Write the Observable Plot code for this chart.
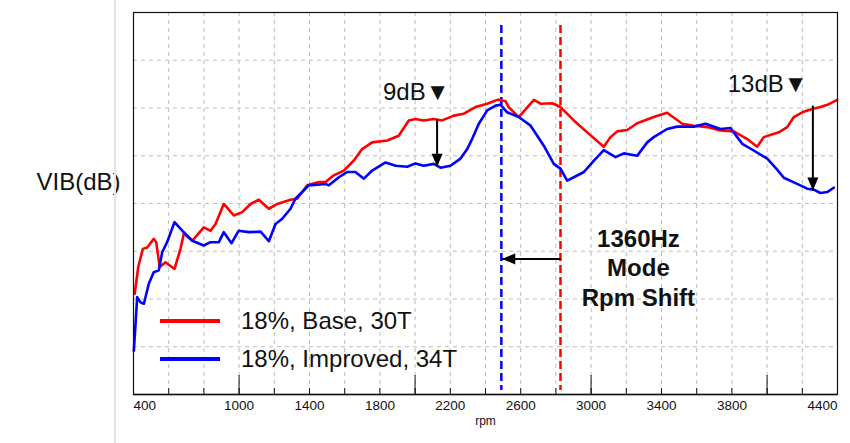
<!DOCTYPE html>
<html>
<head>
<meta charset="utf-8">
<script src="https://cdn.jsdelivr.net/npm/d3@7"></script>
<script src="https://cdn.jsdelivr.net/npm/@observablehq/plot@0.6"></script>
<style>
  html, body { margin: 0; padding: 0; background: #fff; }
  #wrap { position: relative; width: 850px; height: 443px; overflow: hidden; font-family: "Liberation Sans", Arial, sans-serif; }
  #pageline { position: absolute; left: 114px; top: 0; width: 2px; height: 443px; background: #e6e6e6; }
  #legend { position: absolute; left: 160px; top: 302px; }
  .row { display: flex; align-items: center; height: 38px; }
  .sw { width: 60px; height: 4px; margin-right: 21px; }
  .lab { font-size: 24px; color: #111; white-space: nowrap; }
</style>
</head>
<body>
<div id="wrap"><div id="pageline"></div></div>
<script>
// ---- data ----
const seriesNames = ["18%, Base, 30T", "18%, Improved, 34T"];
const seriesColors = ["#ff0000", "#0000ff"];

const rpmBase = [407,427,453,478,515,529,549,582,633,667,686,734,799,838,866,913,970,1018,1065,1112,1169,1217,1292,1330,1387,1453,1491,1538,1595,1652,1699,1756,1842,1907,1964,2002,2049,2106,2154,2220,2277,2343,2410,2467,2485,2514,2532,2589,2675,2713,2779,2826,2902,2978,3072,3110,3148,3205,3262,3356,3432,3518,3584,3660,3735,3811,3887,3944,3981,4067,4114,4152,4200,4256,4303,4351,4398];
const vibBase = [61.1,66.7,70.5,70.8,72.6,71.9,66.7,67.7,66.3,70.5,73.7,72.2,75.0,74.3,75.7,79.9,77.5,78.2,79.9,80.8,78.9,79.9,80.8,81.0,83.8,84.5,84.5,85.9,86.9,89.0,91.4,92.8,93.2,94.2,97.4,97.7,97.4,97.7,97.4,98.4,98.8,100.2,100.9,101.7,101.7,101.4,100.2,98.1,101.7,100.9,101.0,100.2,97.4,94.9,91.9,93.9,95.1,95.4,96.8,98.1,99.0,96.7,96.3,96.0,95.3,95.1,93.5,91.9,93.9,94.9,96.0,98.1,99.1,99.8,100.2,100.8,101.7];

const rpmImproved = [402,421,440,459,487,515,544,563,591,633,677,734,799,838,885,913,957,998,1055,1122,1169,1207,1245,1292,1320,1396,1491,1510,1567,1614,1661,1709,1756,1832,1889,1955,2002,2049,2106,2144,2201,2258,2296,2324,2362,2410,2457,2485,2523,2589,2656,2694,2731,2788,2826,2864,2902,2959,3016,3072,3139,3186,3262,3319,3356,3432,3489,3584,3650,3735,3792,3830,3859,3924,4001,4057,4095,4171,4228,4265,4303,4341,4379];
const vibImproved = [49.2,60.4,59.3,59.0,63.2,65.6,66.0,69.8,71.9,76.1,74.3,72.2,71.2,71.9,71.9,74.0,71.7,74.3,74.0,74.1,72.1,75.7,76.8,78.9,81.0,83.8,84.1,83.8,85.5,86.6,86.6,85.2,86.9,88.6,87.9,87.7,88.4,87.9,88.3,87.5,87.9,89.4,91.4,93.5,96.7,99.5,100.5,100.7,99.1,98.1,96.3,94.2,92.1,88.3,87.3,84.8,85.5,86.6,89.0,91.2,89.7,90.5,90.0,92.8,93.9,95.6,96.1,96.1,96.7,95.6,95.8,93.9,92.5,91.1,89.4,87.1,85.4,84.1,83.1,82.9,82.2,82.4,83.3];

const xTickLabels = [400, 1000, 1400, 1800, 2200, 2600, 3000, 3400, 3800, 4400];
const xMinorTicks = d3.range(400, 4401, 200);
const xMajorTicks = [1000, 2000, 3000, 4000];
const yGridTicks = [50, 60, 70, 80, 90, 100, 110];

// mode-line rpm positions (dashed verticals)
const modeRpm = [2490, 2826];
const modeColor = ["#0000ff", "#ff0000"];

// dB-difference annotations
const diffRpm = [2125, 4260];
const diffFrom = [97.6, 100.5];
const diffTo = [87.7, 82.7];
const diffLabel = ["9dB\u25BC", "13dB\u25BC"];
const diffLabelRpm = [2195, 4230];
const diffLabelVib = [103.2, 104.9];

// rpm shift arrow + note
const shiftFromRpm = [2826];
const shiftToRpm = [2495];
const shiftVib = [68.4];
const noteText = ["1360Hz\nMode\nRpm Shift"];
const noteRpm = [3269];
const noteVib = [66.7];

// ---- build tables ----
const base = rpmBase.map((r, i) => ({rpm: r, vib: vibBase[i]}));
const improved = rpmImproved.map((r, i) => ({rpm: r, vib: vibImproved[i]}));
const modes = modeRpm.map((r, i) => ({rpm: r, color: modeColor[i]}));
const diffs = diffRpm.map((r, i) => ({rpm: r, from: diffFrom[i], to: diffTo[i], label: diffLabel[i], lx: diffLabelRpm[i], ly: diffLabelVib[i]}));
const shifts = shiftFromRpm.map((r, i) => ({x1: r, x2: shiftToRpm[i], y: shiftVib[i]}));
const notes = noteText.map((t, i) => ({text: t, rpm: noteRpm[i], vib: noteVib[i]}));

const firstTick = xTickLabels.slice(0, 1);
const midTicks = xTickLabels.slice(1, -1);
const lastTick = xTickLabels.slice(-1);

const headDown = {draw(ctx) { ctx.moveTo(0, 0); ctx.lineTo(-5.5, -13); ctx.lineTo(5.5, -13); ctx.closePath(); }};
const headLeft = {draw(ctx) { ctx.moveTo(0, 0); ctx.lineTo(13, -5.5); ctx.lineTo(13, 5.5); ctx.closePath(); }};

const axisOpts = {tickSize: 0, tickPadding: 6, fontSize: 13.5, label: null, tickFormat: d3.format("d")};

const chart = Plot.plot({
  width: 850,
  height: 443,
  marginLeft: 133,
  marginRight: 13,
  marginTop: 12,
  marginBottom: 49,
  style: {fontFamily: "Liberation Sans, Arial, sans-serif", background: "transparent", color: "#111"},
  x: {domain: [400, 4400]},
  y: {domain: [40, 120], axis: null},
  marks: [
    Plot.gridX(xMinorTicks, {stroke: "#bdbdbd", strokeOpacity: 1, strokeDasharray: "4,4"}),
    Plot.gridY(yGridTicks, {stroke: "#bdbdbd", strokeOpacity: 1, strokeDasharray: "4,4"}),
    Plot.ruleX(xMinorTicks, {insetTop: 376, stroke: "#111", strokeWidth: 1}),
    Plot.ruleX(xMajorTicks, {insetTop: 363, stroke: "#111", strokeWidth: 1}),
    Plot.axisX(firstTick, {...axisOpts, textAnchor: "start"}),
    Plot.axisX(midTicks, axisOpts),
    Plot.axisX(lastTick, {...axisOpts, textAnchor: "end"}),
    Plot.text(["rpm"], {frameAnchor: "bottom", dy: 30, fontSize: 12}),
    Plot.text(["VIB(dB)"], {frameAnchor: "left", dx: -13, dy: -21, textAnchor: "end", fontSize: 24}),
    Plot.ruleX(modes, {x: "rpm", stroke: "color", strokeWidth: 2.5, strokeDasharray: "8,4", insetTop: 13, insetBottom: 4}),
    Plot.line(base, {x: "rpm", y: "vib", stroke: seriesColors[0], strokeWidth: 2.6}),
    Plot.line(improved, {x: "rpm", y: "vib", stroke: seriesColors[1], strokeWidth: 2.6}),
    Plot.link(diffs, {x1: "rpm", x2: "rpm", y1: "from", y2: "to", stroke: "#000", strokeWidth: 2}),
    Plot.dot(diffs, {x: "rpm", y: "to", symbol: headDown, fill: "#000", stroke: "none"}),
    Plot.text(diffs, {x: "lx", y: "ly", text: "label", textAnchor: "end", fontSize: 24, fill: "#111"}),
    Plot.link(shifts, {x1: "x1", x2: "x2", y1: "y", y2: "y", stroke: "#000", strokeWidth: 2}),
    Plot.dot(shifts, {x: "x2", y: "y", symbol: headLeft, fill: "#000", stroke: "none"}),
    Plot.text(notes, {x: "rpm", y: "vib", text: "text", fontSize: 24, fontWeight: "bold", lineHeight: 1.23, fill: "#111"}),
    Plot.frame({stroke: "#111", strokeWidth: 1.2}),
    Plot.ruleY([40], {stroke: "#111", strokeWidth: 1.6})
  ]
});

const wrap = document.getElementById("wrap");
wrap.appendChild(chart);

const legend = document.createElement("div");
legend.id = "legend";
seriesNames.forEach((name, i) => {
  const row = document.createElement("div");
  row.className = "row";
  const sw = document.createElement("div");
  sw.className = "sw";
  sw.style.background = seriesColors[i];
  const lab = document.createElement("div");
  lab.className = "lab";
  lab.textContent = name;
  row.appendChild(sw);
  row.appendChild(lab);
  legend.appendChild(row);
});
wrap.appendChild(legend);
</script>
</body>
</html>
